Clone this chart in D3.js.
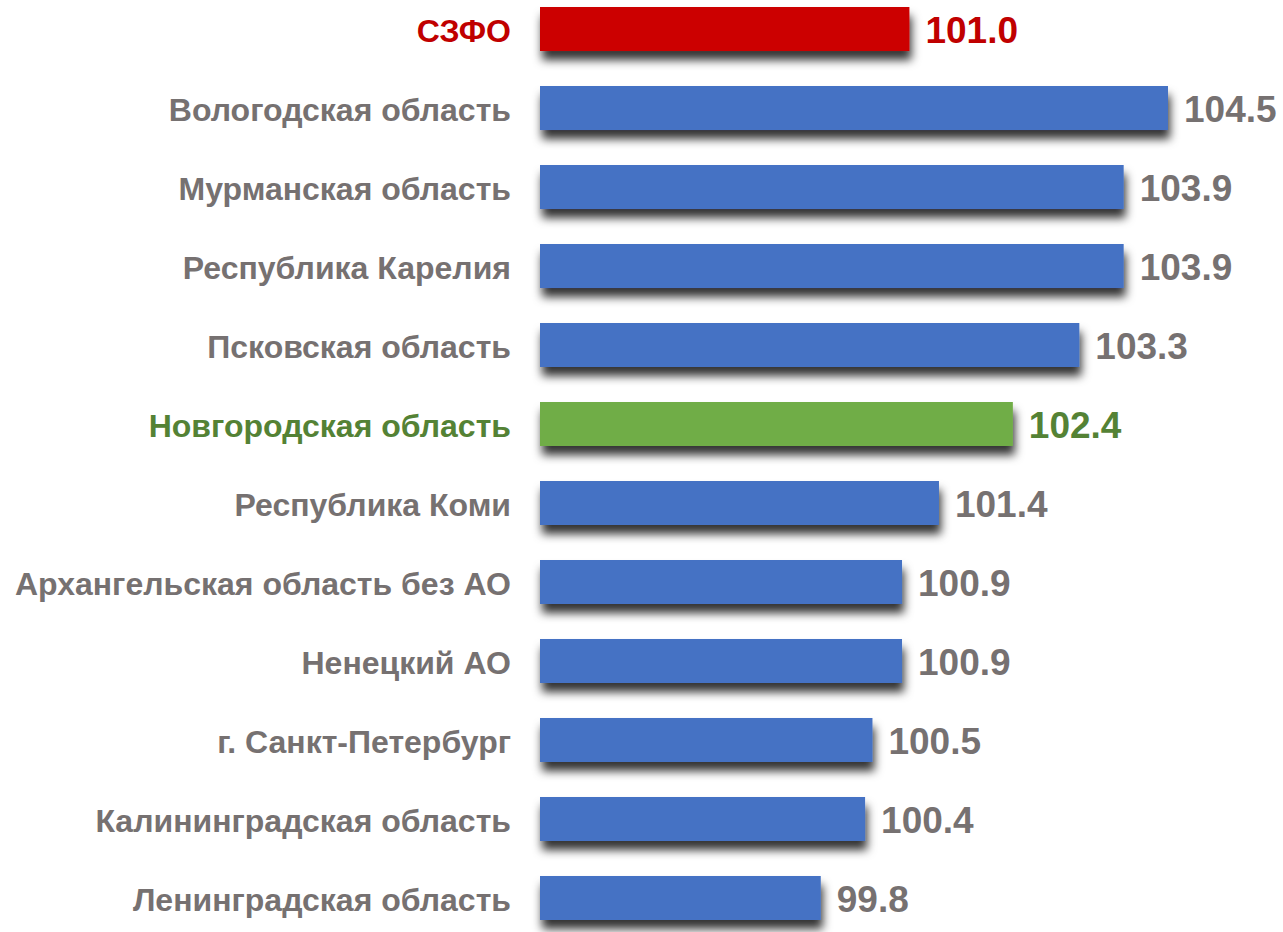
<!DOCTYPE html>
<html>
<head>
<meta charset="utf-8">
<script src="https://cdn.jsdelivr.net/npm/d3@7"></script>
<style>
body { margin: 0; background: #fff; }
svg text { font-family: "Liberation Sans", Arial, sans-serif; font-weight: bold; }
</style>
</head>
<body>
<script>
const regions = ["СЗФО", "Вологодская область", "Мурманская область", "Республика Карелия",
	"Псковская область", "Новгородская область", "Республика Коми", "Архангельская область без АО",
	"Ненецкий АО", "г. Санкт-Петербург", "Калининградская область", "Ленинградская область"];
const values = [101.0, 104.5, 103.9, 103.9, 103.3, 102.4, 101.4, 100.9, 100.9, 100.5, 100.4, 99.8];
const highlightRed = "СЗФО";
const highlightGreen = "Новгородская область";

const w = 1283;
const h = 932;

const svg = d3.select("body").append("svg")
	.attr("width", w)
	.attr("height", h);

// soft shadow under each bar
const defs = svg.append("defs");
defs.append("filter")
	.attr("id", "shadow")
	.attr("x", "-10%").attr("y", "-30%")
	.attr("width", "130%").attr("height", "200%")
	.append("feDropShadow")
	.attr("dx", 2)
	.attr("dy", 9)
	.attr("stdDeviation", 5)
	.attr("flood-color", "#000")
	.attr("flood-opacity", 0.8);

const xScale = d3.scaleLinear()
	.domain([96, 104.5])
	.range([540, 1168]);

const yScale = d3.scaleBand()
	.domain(regions)
	.range([7, 920])
	.paddingInner(0.443)
	.paddingOuter(0);

function barColor(d) {
	if (d === highlightRed) return "#CC0000";
	if (d === highlightGreen) return "#70AD47";
	return "#4472C4";
}
function textColor(d) {
	if (d === highlightRed) return "#C00000";
	if (d === highlightGreen) return "#548235";
	return "#767171";
}

const rows = svg.selectAll("g.row")
	.data(regions)
	.enter()
	.append("g")
	.attr("class", "row");

rows.append("rect")
	.attr("x", xScale(96))
	.attr("y", (d) => yScale(d))
	.attr("width", (d, i) => xScale(values[i]) - xScale(96))
	.attr("height", yScale.bandwidth())
	.attr("fill", (d) => barColor(d))
	.attr("filter", "url(#shadow)");

rows.append("text")
	.attr("x", 511)
	.attr("y", (d) => yScale(d) + yScale.bandwidth() / 2)
	.attr("dy", "0.4em")
	.attr("text-anchor", "end")
	.attr("font-size", 32)
	.attr("fill", (d) => textColor(d))
	.text((d) => d);

rows.append("text")
	.attr("x", (d, i) => xScale(values[i]) + 16)
	.attr("y", (d) => yScale(d) + yScale.bandwidth() / 2)
	.attr("dy", "0.38em")
	.attr("font-size", 37)
	.attr("fill", (d) => textColor(d))
	.text((d, i) => values[i].toFixed(1));
</script>
</body>
</html>
